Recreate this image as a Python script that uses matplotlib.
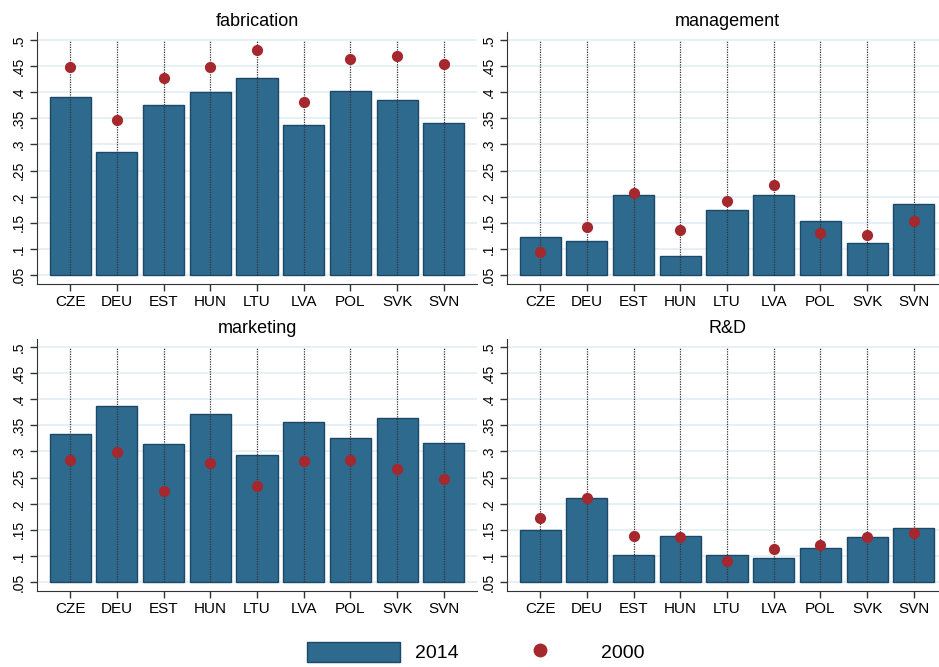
import matplotlib
matplotlib.use("Agg")
import matplotlib.pyplot as plt
from matplotlib.patches import Patch
from matplotlib.lines import Line2D

plt.rcParams['font.family'] = ['Liberation Sans', 'DejaVu Sans']

countries = ['CZE', 'DEU', 'EST', 'HUN', 'LTU', 'LVA', 'POL', 'SVK', 'SVN']

fab_2014 = [0.390, 0.285, 0.376, 0.401, 0.427, 0.338, 0.403, 0.385, 0.340]
fab_2000 = [0.448, 0.347, 0.427, 0.448, 0.481, 0.381, 0.464, 0.469, 0.454]

man_2014 = [0.123, 0.116, 0.204, 0.086, 0.174, 0.204, 0.153, 0.112, 0.186]
man_2000 = [0.095, 0.142, 0.207, 0.136, 0.192, 0.222, 0.130, 0.126, 0.153]

mkt_2014 = [0.333, 0.387, 0.315, 0.372, 0.294, 0.357, 0.325, 0.363, 0.317]
mkt_2000 = [0.283, 0.299, 0.225, 0.277, 0.234, 0.282, 0.284, 0.267, 0.248]

rd_2014 = [0.150, 0.210, 0.102, 0.138, 0.102, 0.097, 0.116, 0.136, 0.153]
rd_2000 = [0.173, 0.211, 0.139, 0.137, 0.090, 0.114, 0.121, 0.136, 0.143]

panels = [
    ('fabrication', fab_2014, fab_2000),
    ('management', man_2014, man_2000),
    ('marketing', mkt_2014, mkt_2000),
    ('R&D', rd_2014, rd_2000),
]

yticks = [0.05, 0.1, 0.15, 0.2, 0.25, 0.3, 0.35, 0.4, 0.45, 0.5]
ytick_labels = ['.05', '.1', '.15', '.2', '.25', '.3', '.35', '.4', '.45', '.5']

bar_col = '#2e6a8e'
edge_col = '#1b4866'
dot_col = '#a4282e'
grid_col = '#e3eef2'

fig = plt.figure(figsize=(9.39, 6.67), dpi=100)

W = 440 / 939
H = 252 / 667
positions = [
    (37 / 939, 1 - 284 / 667),
    (507 / 939, 1 - 284 / 667),
    (37 / 939, 1 - 591 / 667),
    (507 / 939, 1 - 591 / 667),
]

x = list(range(len(countries)))
base = 0.05

for (title, v14, v00), (l, b) in zip(panels, positions):
    ax = fig.add_axes([l, b, W, H])
    heights = [v - base for v in v14]
    ax.bar(x, heights, bottom=base, width=0.88, color=bar_col,
           edgecolor=edge_col, linewidth=1.0, zorder=2)
    ax.vlines(x, base, 0.5, colors='#333333', linestyles=(0, (1, 1)),
              linewidth=0.9, zorder=3)
    ax.scatter(x, v00, s=65, color=dot_col, zorder=4, linewidths=0)

    ax.set_xlim(-0.71, 8.71)
    ax.set_ylim(0.033, 0.515)
    ax.set_yticks(yticks)
    ax.set_yticklabels(ytick_labels, rotation=90, va='center', fontsize=10)
    ax.set_xticks(x)
    ax.set_xticklabels(countries, fontsize=11)
    ax.tick_params(axis='both', direction='out', length=5, width=1, color='#333333', pad=3)
    for yt in yticks:
        ax.axhline(yt, color=grid_col, linewidth=1.2, zorder=0)
    ax.spines['top'].set_visible(False)
    ax.spines['right'].set_visible(False)
    ax.spines['left'].set_color('#333333')
    ax.spines['bottom'].set_color('#333333')
    ax.set_title(title, fontsize=13, pad=4)

handles = [
    Patch(facecolor=bar_col, edgecolor=edge_col, label='2014'),
    Line2D([], [], marker='o', linestyle='none', markersize=10,
           markerfacecolor=dot_col, markeredgewidth=0, label='2000'),
]
fig.legend(handles=handles, loc='center', bbox_to_anchor=(0.507, 15 / 667),
           ncol=2, frameon=False, fontsize=14, handlelength=4.74,
           handleheight=1.24, columnspacing=1.85, handletextpad=0.77)

fig.savefig('out.png', dpi=100)
